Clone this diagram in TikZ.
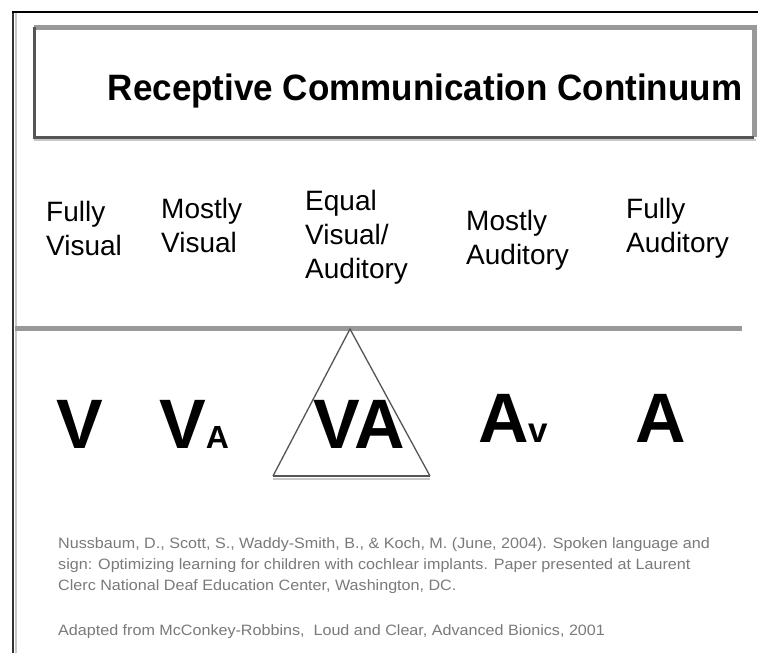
\documentclass[tikz,border=0pt]{standalone}
\usepackage{fontspec}
\setmainfont{Liberation Sans}
\definecolor{boxgray}{HTML}{999999}
\definecolor{darkline}{HTML}{555555}
\definecolor{citegray}{HTML}{7A7A7A}
\definecolor{lightline}{HTML}{C8C8C8}
\begin{document}
\begin{tikzpicture}[x=1pt,y=-1pt,
  label/.style={anchor=north west,inner sep=0pt,align=left,font=\fontsize{28}{34}\selectfont},
  big/.style={anchor=base west,inner sep=0pt,font=\bfseries\fontsize{70}{70}\selectfont},
  cite/.style={anchor=base west,inner sep=0pt,align=left,text=citegray,font=\fontsize{15}{21}\selectfont}]
\useasboundingbox (0,0) rectangle (758,653);
\fill[white] (0,0) rectangle (758,653);
% outer frame
\draw[lightline,line width=1.5] (15.8,13) -- (15.8,653);
\draw[black!80,line width=2.5] (13,11.5) -- (13,653);
\draw[black,line width=2.5] (12,12.2) -- (758,12.2);
% title box
\coordinate (tl) at (34,27);
\coordinate (tr) at (754,27);
\coordinate (br) at (754,137);
\coordinate (bl) at (34,137);
\draw[boxgray,line width=5] (tl) -- (tr) -- (br);
\draw[lightline,line width=1.5] (34,140) -- (756,140);
\draw[darkline,line width=3] (tl) -- (bl) -- (br);
\node[inner sep=0pt,anchor=base,font=\bfseries\fontsize{34}{34}\selectfont] (title) at (425,100)
  {\scalebox{1.03}[1.08]{Receptive Communication Continuum}};
% category labels
\node[label] (fv) at (46,201) {Fully\\Visual};
\node[label] (mv) at (161,198) {Mostly\\Visual};
\node[label] (eq) at (305,190) {Equal\\Visual/\\Auditory};
\node[label] (ma) at (466,210) {Mostly\\Auditory};
\node[label] (fa) at (626,198) {Fully\\Auditory};
% divider
\coordinate (dl) at (15,328);
\coordinate (dr) at (742,328);
\draw[boxgray,line width=5] (dl) -- (dr);
% triangle
\coordinate (apex) at (350,329);
\coordinate (tbl) at (273,476);
\coordinate (tbr) at (430,476);
\draw[lightline,line width=1.5] (273,479) -- (430,479);
\draw[darkline,line width=1.3] (tbl) -- (apex) -- (tbr);
\draw[darkline,line width=2.5] (tbl) -- (tbr);
% big letters
\node[big] (v) at (56,448) {V};
\node[big] (va1) at (159,448) {V{\fontsize{32}{32}\selectfont A}};
\node[big] (va) at (313,448) {VA};
\node[big] (av) at (478,442) {A{\fontsize{35}{35}\selectfont v}};
\node[big] (a) at (635,442) {A};
% citation (base anchor = last line's baseline)
\node[cite] (ref) at (58,590) {\scalebox{1.075}[1]{Nussbaum, D., Scott, S., Waddy-Smith, B., \& Koch, M. (June, 2004). Spoken language and}\\
\scalebox{1.075}[1]{sign: Optimizing learning for children with cochlear implants. Paper presented at Laurent}\\
\scalebox{1.075}[1]{Clerc National Deaf Education Center, Washington, DC.}};
\node[cite] (adapt) at (58,635) {\scalebox{1.075}[1]{Adapted from McConkey-Robbins, \ Loud and Clear, Advanced Bionics, 2001}};
\end{tikzpicture}
\end{document}
